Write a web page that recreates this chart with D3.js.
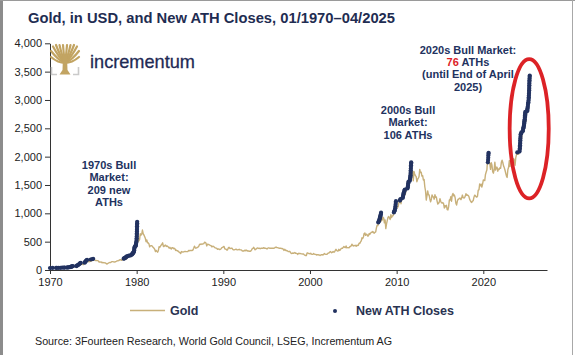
<!DOCTYPE html>
<html><head><meta charset="utf-8">
<script src="https://cdn.jsdelivr.net/npm/d3@7"></script>
<style>
html,body{margin:0;padding:0;background:#fff;}
svg{display:block;font-family:"Liberation Sans",Arial,Helvetica,sans-serif;}
</style></head>
<body>
<svg id="chart" width="575" height="355"></svg>
<script>
// ---------- DATA ----------
const goldStartYear = 1970; // monthly values, Jan 1970 .. Apr 2025
const goldMonthly = [
 35.0,35.0,35.2,35.6,35.9,35.4,35.3,35.4,36.2,37.5,37.4,37.4,
 38.0,38.7,38.9,39.5,40.5,40.1,41.0,42.7,42.0,42.5,42.9,43.6,
 46,48,48.3,49,54.6,62,65.7,67,65.5,64.9,62.9,64.9,
 65,74,84,90,102,120,120,106,103,100,94,112,
 130,150,168,172,163,154,143,154,151,158,181,195,
 176,182,178,167,167,166,166,159,141,143,139,140,
 128,132,129,128,126,124,112,104,117,123,131,134,
 132,142,148,148,143,141,144,146,154,162,161,165,
 175,182,181,170,184,183,200,208,217,242,194,226,
 233,251,240,246,275,277,296,315,397,383,415,512,
 850,680,500,515,535,640,615,630,705,640,620,590,
 560,500,530,480,480,460,410,425,430,430,410,400,
 385,365,325,345,330,315,340,410,400,420,440,455,
 480,415,415,435,440,415,425,415,405,385,400,385,
 370,395,395,375,385,375,345,350,340,335,330,310,
 305,290,325,320,315,320,325,330,325,325,325,327,
 345,340,345,345,345,345,355,385,420,400,385,390,
 400,405,420,450,460,450,460,455,460,465,490,485,
 475,425,455,450,450,440,435,430,410,415,420,410,
 395,390,385,380,365,370,370,360,365,375,395,400,
 410,415,375,370,365,350,360,390,400,380,380,385,
 385,365,355,355,360,365,365,355,355,360,365,355,
 355,355,340,335,335,340,350,340,350,340,335,335,
 330,330,335,350,375,380,400,380,355,370,375,390,
 385,380,385,375,385,385,385,385,395,385,385,380,
 375,375,390,390,385,385,385,385,385,385,385,387,
 400,405,395,395,390,385,385,385,380,380,375,370,
 345,365,350,340,345,335,325,325,330,310,295,290,
 300,295,300,310,295,295,290,275,295,290,295,290,
 285,285,280,285,270,260,255,255,300,300,290,290,
 285,295,280,275,275,290,280,275,275,265,270,272,
 265,265,255,265,270,270,265,275,290,280,275,278,
 282,297,300,308,325,318,305,312,325,315,318,345,
 365,345,335,335,365,345,355,375,385,385,400,415,
 400,395,425,390,395,395,390,410,415,425,455,438,
 425,435,428,435,418,437,430,435,473,470,495,513,
 568,556,582,644,653,613,632,623,599,604,646,632,
 650,665,663,680,660,650,665,672,743,790,783,834,
 923,972,933,865,885,930,918,833,884,730,814,870,
 928,943,917,891,975,927,955,955,996,1040,1182,1104,
 1081,1117,1114,1180,1208,1244,1169,1246,1307,1346,1386,1405,
 1333,1410,1440,1556,1536,1505,1628,1830,1620,1722,1746,1574,
 1738,1694,1662,1651,1558,1598,1622,1648,1776,1719,1726,1657,
 1664,1588,1598,1469,1394,1234,1314,1395,1326,1323,1253,1204,
 1244,1326,1291,1288,1250,1327,1285,1287,1216,1164,1175,1199,
 1260,1214,1187,1180,1190,1172,1095,1135,1115,1142,1065,1060,
 1118,1234,1233,1293,1214,1320,1351,1309,1322,1275,1178,1146,
 1211,1249,1249,1268,1268,1242,1269,1322,1280,1271,1275,1303,
 1345,1318,1325,1315,1299,1250,1224,1201,1192,1215,1222,1282,
 1321,1313,1292,1284,1305,1409,1413,1520,1485,1513,1464,1517,
 1587,1585,1577,1686,1730,1768,1975,2060,1886,1880,1776,1895,
 1848,1734,1708,1769,1903,1763,1814,1814,1743,1783,1774,1806,
 1796,1900,1937,1897,1837,1807,1765,1711,1660,1633,1768,1812,
 1928,1826,1969,1990,1963,1919,1965,1940,1849,1984,2036,2063,
 2040,2044,2230,2286,2327,2327,2426,2503,2634,2744,2658,2625,
 2812,2858,3122,3289
];

// New all-time-high closes: [year, USD]
const athCloses = [
 [1970.0,35.2],[1970.3,35.8],[1970.7,36.3],[1970.8,37.5],[1971.0,38],[1971.2,39],[1971.4,40.5],[1971.6,42],[1971.7,42.7],[1971.95,43.6],
 [1972.05,46],[1972.15,48],[1972.3,49.5],[1972.4,54],[1972.45,58],[1972.5,62],[1972.55,65],[1972.65,67.5],
 [1973.05,70],[1973.1,75],[1973.15,84],[1973.25,90],[1973.35,100],[1973.42,110],[1973.48,120],[1973.55,126],
 [1974.0,130],[1974.05,140],[1974.1,150],[1974.15,160],[1974.22,172],[1974.28,179],[1974.7,185],[1974.85,190],[1974.98,197],
 [1978.5,200],[1978.56,205],[1978.62,210],[1978.68,215],[1978.74,222],[1978.8,230],[1978.86,242],[1979.0,245],[1979.1,252],[1979.3,258],
 [1979.42,270],[1979.48,280],[1979.53,290],[1979.58,298],[1979.62,305],[1979.65,315],[1979.68,330],[1979.71,350],[1979.73,375],[1979.75,397],
 [1979.78,410],[1979.86,420],[1979.89,430],[1979.91,445],[1979.93,460],[1979.95,480],[1979.97,500],[1979.99,530],[1980.0,560],[1980.01,590],
 [1980.02,620],[1980.025,650],[1980.03,680],[1980.035,710],[1980.04,740],[1980.045,770],[1980.05,800],[1980.055,825],[1980.06,850],
 [2007.88,840],[2007.93,855],[2007.98,870],[2008.02,890],[2008.05,910],[2008.08,925],[2008.1,940],[2008.13,955],[2008.15,970],[2008.18,990],[2008.2,1011],
 [2009.68,1015],[2009.72,1030],[2009.76,1045],[2009.8,1060],[2009.83,1090],[2009.86,1120],[2009.88,1150],[2009.9,1180],[2009.92,1215],
 [2010.38,1225],[2010.42,1240],[2010.45,1250],[2010.7,1270],[2010.72,1290],[2010.75,1310],[2010.78,1330],[2010.8,1350],[2010.84,1370],[2010.88,1390],[2010.92,1410],[2010.96,1420],
 [2011.25,1440],[2011.28,1460],[2011.3,1480],[2011.32,1500],[2011.34,1530],[2011.36,1556],[2011.5,1570],[2011.52,1590],[2011.55,1610],[2011.57,1630],
 [2011.59,1650],[2011.6,1670],[2011.61,1700],[2011.62,1730],[2011.63,1760],[2011.64,1790],[2011.65,1820],[2011.66,1850],[2011.67,1880],[2011.68,1900],
 [2020.53,1900],[2020.55,1940],[2020.57,1980],[2020.58,2020],[2020.6,2050],[2020.61,2067],
 [2023.92,2075],[2024.18,2090],[2024.2,2120],[2024.22,2150],[2024.23,2180],[2024.24,2200],[2024.25,2230],[2024.26,2260],[2024.27,2290],[2024.28,2320],
 [2024.29,2350],[2024.3,2390],[2024.38,2410],[2024.4,2430],[2024.55,2450],[2024.58,2470],[2024.62,2500],[2024.64,2520],[2024.68,2540],[2024.7,2560],
 [2024.72,2580],[2024.73,2600],[2024.74,2620],[2024.76,2640],[2024.78,2660],[2024.8,2690],[2024.81,2710],[2024.82,2730],[2024.83,2750],[2024.84,2770],
 [2024.85,2790],[2025.05,2800],[2025.07,2820],[2025.09,2840],[2025.11,2860],[2025.13,2880],[2025.15,2910],[2025.17,2940],[2025.2,2960],[2025.22,2990],
 [2025.24,3020],[2025.25,3050],[2025.26,3080],[2025.27,3110],[2025.28,3140],[2025.29,3170],[2025.3,3200],[2025.3,3230],[2025.31,3260],[2025.31,3290],
 [2025.32,3320],[2025.33,3350],[2025.34,3380],[2025.35,3410],[2025.36,3430]
];

const yTicks = [0,500,1000,1500,2000,2500,3000,3500,4000];
const xTicks = [1970,1980,1990,2000,2010,2020];
const highlightBox = {x0:2023.04, x1:2027.55, y0:1265, y1:3720};

const titleText = "Gold, in USD, and New ATH Closes, 01/1970\u201304/2025";
const sourceText = "Source: 3Fourteen Research, World Gold Council, LSEG, Incrementum AG";
const note1970 = ["1970s Bull","Market:","209 new","ATHs"];
const note2000 = ["2000s Bull","Market:","106 ATHs"];
const note2020 = ["2020s Bull Market:","__76__ ATHs","(until End of April","2025)"];

// ---------- STYLE ----------
const NAVY = "#223260", GOLD = "#c8b07a", RED = "#dc2226", AXIS = "#333", TREE = "#c2a462";

const svg = d3.select("#chart");

// frame
svg.append("rect").attr("x",0).attr("y",0).attr("width",575).attr("height",355).attr("fill","#fff");
svg.append("rect").attr("x",0).attr("y",0).attr("width",3).attr("height",355).attr("fill","#8c8c8c");
svg.append("line").attr("x1",0).attr("x2",575).attr("y1",0.5).attr("y2",0.5).attr("stroke","#9a9a9a");
svg.append("line").attr("x1",572.5).attr("x2",572.5).attr("y1",0).attr("y2",355).attr("stroke","#a8a8a8");

// title
svg.append("text").attr("x",28).attr("y",23).attr("fill","#1f2d52")
  .attr("font-size",15.5).attr("font-weight","bold")
  .attr("textLength",367).attr("lengthAdjust","spacingAndGlyphs").text(titleText);

// scales
const x = d3.scaleLinear().domain([1970, 2027.35]).range([50, 547]);
const y = d3.scaleLinear().domain([0, 4000]).range([270, 43.3]);

// axes
const yAxis = svg.append("g").attr("transform","translate(50,0)")
  .call(d3.axisLeft(y).tickValues(yTicks).tickSize(5).tickSizeOuter(0).tickFormat(d3.format(",")));
const xAxis = svg.append("g").attr("transform","translate(0,270)")
  .call(d3.axisBottom(x).tickValues(xTicks).tickSize(4).tickSizeOuter(0).tickFormat(d3.format("d")));
[yAxis,xAxis].forEach(g=>{
  g.selectAll("path,line").attr("stroke",AXIS).attr("stroke-width",1);
  g.selectAll("text").attr("fill","#222").attr("font-size",11)
   .attr("font-family","'Liberation Sans',Arial,sans-serif");
});
yAxis.selectAll("text").attr("x",-8);
xAxis.selectAll("text").attr("y",8);

// gold line
const goldSeries = goldMonthly.map((v,i)=>[goldStartYear + i/12, v]);
svg.append("path").datum(goldSeries)
  .attr("fill","none").attr("stroke",GOLD).attr("stroke-width",1.4).attr("stroke-linejoin","round")
  .attr("d", d3.line().x(d=>x(d[0])).y(d=>y(d[1])));

// ATH dots
svg.append("g").selectAll("circle").data(athCloses).join("circle")
  .attr("cx",d=>x(d[0])).attr("cy",d=>y(d[1])).attr("r",2.1).attr("fill",NAVY);

// highlight ellipse
svg.append("ellipse")
  .attr("cx",(x(highlightBox.x0)+x(highlightBox.x1))/2)
  .attr("cy",(y(highlightBox.y0)+y(highlightBox.y1))/2)
  .attr("rx",(x(highlightBox.x1)-x(highlightBox.x0))/2)
  .attr("ry",(y(highlightBox.y0)-y(highlightBox.y1))/2)
  .attr("fill","none").attr("stroke",RED).attr("stroke-width",3.8);

// annotations
function note(lines, cx, y0, dy){
  lines.forEach((ln,i)=>{
    const t = svg.append("text").attr("x",cx).attr("y",y0+i*dy).attr("text-anchor","middle")
      .attr("font-size",11).attr("font-weight","bold").attr("fill",NAVY);
    if(ln.startsWith("__")){
      const parts = ln.split("__");
      t.append("tspan").attr("fill",RED).text(parts[1]);
      t.append("tspan").text(parts[2]);
    } else t.text(ln);
  });
}
note(note1970, 109, 169, 12.3);
note(note2000, 408, 114, 12.3);
note(note2020, 468, 54, 12.2);

// logo (tree mark)
const logo = svg.append("g");
const treeBase = [65, 63];
const treeTips = [[51,57],[51,51],[53,46.5],[56,45],[59.5,45],[63,45],[67,45],[70.5,45],[74,45],[77,46.5],[79,51],[79,57]];
treeTips.forEach(p=>{
  const mx = (treeBase[0]+p[0])/2, my = (treeBase[1]+p[1])/2 + 3;
  logo.append("path")
    .attr("d", `M${treeBase[0]},${treeBase[1]} Q${mx},${my} ${p[0]},${p[1]}`)
    .attr("fill","none").attr("stroke",TREE).attr("stroke-width",2.2).attr("stroke-linecap","round");
});
logo.append("path").attr("d","M63,56 L67,56 L67.5,70 L70.5,74.5 L59.5,74.5 L62.5,70 Z").attr("fill",TREE);
logo.append("path").attr("d","M51.5,67 V74.5 H57 M78.5,67 V74.5 H73")
  .attr("fill","none").attr("stroke","#cacaca").attr("stroke-width",1.6);
svg.append("text").attr("x",90).attr("y",68).attr("font-size",19).attr("fill","#1f2a55")
  .attr("stroke","#1f2a55").attr("stroke-width",0.3)
  .attr("textLength",105).attr("lengthAdjust","spacingAndGlyphs").text("incrementum");

// legend
svg.append("line").attr("x1",130).attr("x2",165).attr("y1",310.5).attr("y2",310.5)
  .attr("stroke",GOLD).attr("stroke-width",1.6);
svg.append("text").attr("x",170).attr("y",315).attr("font-size",12.5).attr("font-weight","bold")
  .attr("fill","#2a3352").text("Gold");
svg.append("circle").attr("cx",335).attr("cy",311).attr("r",2).attr("fill",NAVY);
svg.append("text").attr("x",356).attr("y",315).attr("font-size",12.5).attr("font-weight","bold")
  .attr("fill","#2a3352").text("New ATH Closes");

// source
svg.append("text").attr("x",35).attr("y",344.5).attr("font-size",11).attr("fill","#222")
  .attr("textLength",357).attr("lengthAdjust","spacingAndGlyphs").text(sourceText);
</script>
</body></html>
